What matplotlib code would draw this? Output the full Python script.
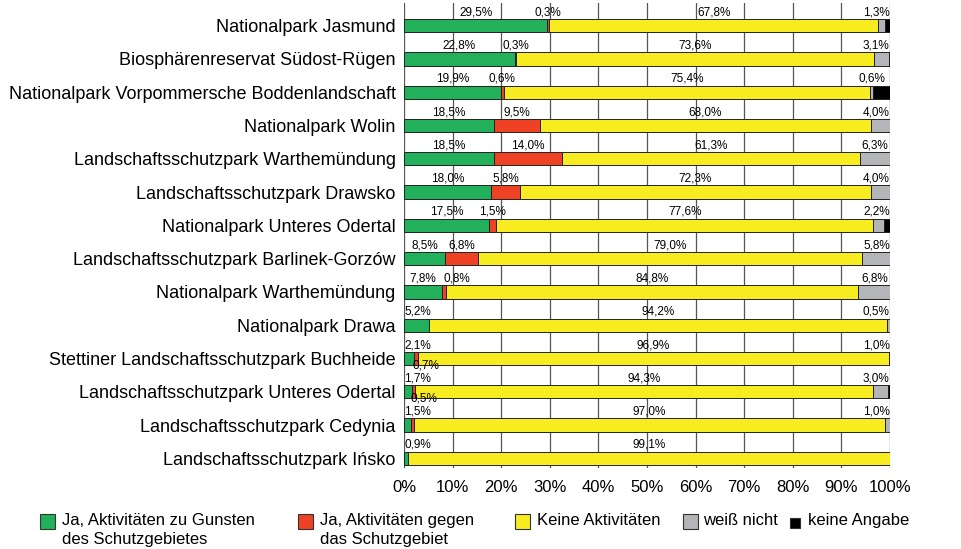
import matplotlib
matplotlib.use("Agg")
import matplotlib.pyplot as plt
from matplotlib.patches import Rectangle
import numpy as np

plt.rcParams['font.family'] = ['Liberation Sans', 'DejaVu Sans']

areas = [
    "Nationalpark Jasmund",
    "Biosphärenreservat Südost-Rügen",
    "Nationalpark Vorpommersche Boddenlandschaft",
    "Nationalpark Wolin",
    "Landschaftsschutzpark Warthemündung",
    "Landschaftsschutzpark Drawsko",
    "Nationalpark Unteres Odertal",
    "Landschaftsschutzpark Barlinek-Gorzów",
    "Nationalpark Warthemündung",
    "Nationalpark Drawa",
    "Stettiner Landschaftsschutzpark Buchheide",
    "Landschaftsschutzpark Unteres Odertal",
    "Landschaftsschutzpark Cedynia",
    "Landschaftsschutzpark Ińsko",
]
ja_pro = [29.5, 22.8, 19.9, 18.5, 18.5, 18.0, 17.5, 8.5, 7.8, 5.2, 2.1, 1.7, 1.5, 0.9]
ja_contra = [0.3, 0.3, 0.6, 9.5, 14.0, 5.8, 1.5, 6.8, 0.8, 0.0, 0.7, 0.5, 0.5, 0.0]
keine = [67.8, 73.6, 75.4, 68.0, 61.3, 72.3, 77.6, 79.0, 84.8, 94.2, 96.9, 94.3, 97.0, 99.1]
weiss_nicht = [1.3, 3.1, 0.6, 4.0, 6.3, 4.0, 2.2, 5.8, 6.8, 0.5, 1.0, 3.0, 1.0, 0.0]
keine_angabe = [1.1, 0.2, 3.5, 0.0, 0.0, 0.0, 1.2, 0.0, 0.0, 0.1, 0.0, 0.5, 0.0, 0.0]
# where the label of the red segment goes
contra_label_pos = ["above"] * 10 + ["below", "below", "none", "above"]

series = [
    ("Ja, Aktivitäten zu Gunsten\ndes Schutzgebietes", ja_pro, "#22b05a", True),
    ("Ja, Aktivitäten gegen\ndas Schutzgebiet", ja_contra, "#ef4123", True),
    ("Keine Aktivitäten", keine, "#f7ec1f", True),
    ("weiß nicht", weiss_nicht, "#b3b5b8", True),
    ("keine Angabe", keine_angabe, "#000000", False),
]

W, H = 961, 549
fig = plt.figure(figsize=(W / 100, H / 100), dpi=100)
ax = fig.add_axes([404 / W, 1 - 468 / H, 486 / W, 465 / H])

y = np.arange(len(areas))
left = np.zeros(len(areas))
label_x = [[] for _ in areas]

for si, (name, vals, col, labelled) in enumerate(series):
    vals = np.array(vals)
    ax.barh(y, vals, left=left, height=0.4, color=col, edgecolor="#222222",
            linewidth=0.7, zorder=3)
    if labelled:
        for i, v in enumerate(vals):
            if v <= 0:
                continue
            fmt = f"{v:.1f}%".replace(".", ",")
            if si == 1:
                pos = contra_label_pos[i]
                if pos == "none":
                    continue
                if pos == "below":
                    ax.text(left[i] - 0.3, y[i] + 0.21, fmt, ha="left", va="center",
                            fontsize=8.5, zorder=5)
                    continue
            cx = left[i] + v / 2
            cx = min(max(cx, 2.8), 97.2)
            if label_x[i]:
                cx = max(cx, label_x[i][-1] + 7.0)
            label_x[i].append(cx)
            ax.text(cx, y[i] - 0.405, fmt, ha="center", va="center",
                    fontsize=8.5, zorder=5)
    left = left + vals

ax.set_xlim(0, 100)
ax.set_ylim(len(areas) - 1 + 0.29, -0.68)
ax.set_xticks(np.arange(0, 101, 10))
ax.set_xticklabels([f"{t}%" for t in range(0, 101, 10)], fontsize=12)
ax.set_yticks(y)
ax.set_yticklabels(areas, fontsize=13)
ax.tick_params(axis="y", length=0, pad=6)
ax.tick_params(axis="x", length=0, pad=9)
ax.grid(axis="x", color="#555555", linewidth=0.9, zorder=0)
for s in ax.spines.values():
    s.set_visible(False)

# legend drawn by hand
legend_x = [40, 298, 515, 683, 790]
text_x = [62, 320, 537, 703, 808]
for (name, vals, col, _), lx, tx in zip(series, legend_x, text_x):
    size = 10 if col == "#000000" else 15
    top = 514 if size == 15 else 517.5
    fig.add_artist(Rectangle((lx / W, 1 - (top + size) / H), size / W, size / H,
                             transform=fig.transFigure, facecolor=col,
                             edgecolor="#333333", linewidth=0.8))
    fig.text(tx / W, 1 - 513 / H, name, ha="left", va="top", fontsize=12,
             linespacing=1.3)

fig.savefig("out.png", dpi=100)
